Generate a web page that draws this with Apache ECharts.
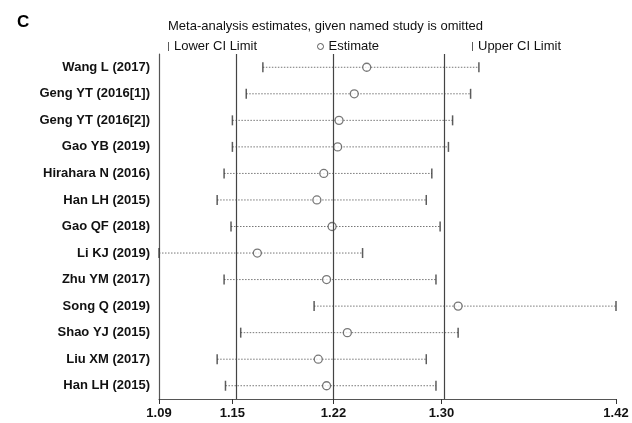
<!DOCTYPE html>
<html>
<head>
<meta charset="utf-8">
<script src="https://cdn.jsdelivr.net/npm/echarts@6/dist/echarts.min.js"></script>
<style>
html,body{margin:0;padding:0;background:#fff;}
#chart{width:632px;height:423px;}
</style>
</head>
<body>
<div id="chart"></div>
<script>
const studies = ['Wang L (2017)', 'Geng YT (2016[1])', 'Geng YT (2016[2])', 'Gao YB (2019)', 'Hirahara N (2016)', 'Han LH (2015)', 'Gao QF (2018)', 'Li KJ (2019)', 'Zhu YM (2017)', 'Song Q (2019)', 'Shao YJ (2015)', 'Liu XM (2017)', 'Han LH (2015)'];
const lowerCI = [1.169, 1.157, 1.147, 1.147, 1.141, 1.136, 1.146, 1.094, 1.141, 1.206, 1.153, 1.136, 1.142];
const estimate = [1.244, 1.235, 1.224, 1.223, 1.213, 1.208, 1.219, 1.165, 1.215, 1.310, 1.230, 1.209, 1.215];
const upperCI = [1.325, 1.319, 1.306, 1.303, 1.291, 1.287, 1.297, 1.241, 1.294, 1.424, 1.310, 1.287, 1.294];
const overallLines = [1.147, 1.220, 1.298];
const xTicks = [1.094, 1.147, 1.220, 1.298, 1.424];
const xMin = 1.094, xMax = 1.424;

const FONT = '"Liberation Sans", Arial, sans-serif';
const chart = echarts.init(document.getElementById('chart'));

const idx = studies.map((s, i) => i);

const option = {
  animation: false,
  backgroundColor: '#fff',
  title: [
    { text: 'C', left: 12, top: 9, textStyle: { fontFamily: FONT, fontSize: 17, fontWeight: 'bold', color: '#000' } },
    { text: 'Meta-analysis estimates, given named study is omitted', left: 163, top: 15, textStyle: { fontFamily: FONT, fontSize: 13, fontWeight: 'normal', color: '#111' } }
  ],
  legend: [
    { data: [{ name: 'Lower CI Limit', icon: 'rect' }], left: 163, top: 35, itemWidth: 1, itemHeight: 9, textStyle: { fontFamily: FONT, fontSize: 13, color: '#111' }, selectedMode: false },
    { data: [{ name: 'Estimate', icon: 'circle' }], left: 312, top: 35, itemWidth: 6, itemHeight: 6, textStyle: { fontFamily: FONT, fontSize: 13, color: '#111' }, selectedMode: false, itemStyle: { borderWidth: 1, borderColor: '#333', color: '#fff' } },
    { data: [{ name: 'Upper CI Limit', icon: 'rect' }], left: 467, top: 35, itemWidth: 1, itemHeight: 9, textStyle: { fontFamily: FONT, fontSize: 13, color: '#111' }, selectedMode: false }
  ],
  grid: { left: 159, right: 16, top: 54, bottom: 24, containLabel: false },
  xAxis: {
    type: 'value', min: xMin, max: xMax,
    splitLine: { show: false },
    axisLine: { show: true, lineStyle: { color: '#555', width: 1.2 } },
    axisTick: { show: true, customValues: xTicks, length: 5, lineStyle: { color: '#333' } },
    axisLabel: { customValues: xTicks, formatter: v => v.toFixed(2), fontFamily: FONT, fontSize: 13, fontWeight: 'bold', color: '#111', margin: 8 }
  },
  yAxis: {
    type: 'category', data: studies, inverse: true,
    axisLine: { show: true, lineStyle: { color: '#555', width: 1.2 } },
    axisTick: { show: false },
    splitLine: { show: false },
    axisLabel: { fontFamily: FONT, fontSize: 13, fontWeight: 'bold', color: '#111', margin: 9 }
  },
  series: [
    {
      type: 'custom', name: 'ciRange', silent: true,
      data: idx.map(i => [lowerCI[i], i, upperCI[i]]),
      encode: { x: [0, 2], y: 1 },
      renderItem: function (params, api) {
        const p1 = api.coord([api.value(0), api.value(1)]);
        const p2 = api.coord([api.value(2), api.value(1)]);
        return { type: 'line', shape: { x1: p1[0], y1: p1[1], x2: p2[0], y2: p2[1] },
          style: { stroke: '#777', lineWidth: 1, lineDash: [1.5, 1.5] } };
      },
      markLine: {
        silent: true, symbol: 'none', label: { show: false },
        lineStyle: { type: 'solid', color: '#444', width: 1.2 },
        data: overallLines.map(v => ({ xAxis: v }))
      },
      z: 1
    },
    {
      type: 'scatter', name: 'Lower CI Limit', symbol: 'rect', symbolSize: [1.5, 10],
      itemStyle: { color: '#333' },
      data: idx.map(i => [lowerCI[i], i]), z: 3
    },
    {
      type: 'scatter', name: 'Estimate', symbol: 'circle', symbolSize: 8,
      itemStyle: { color: '#fff', borderColor: '#555', borderWidth: 1.3 },
      data: idx.map(i => [estimate[i], i]), z: 4
    },
    {
      type: 'scatter', name: 'Upper CI Limit', symbol: 'rect', symbolSize: [1.5, 10],
      itemStyle: { color: '#333' },
      data: idx.map(i => [upperCI[i], i]), z: 3
    }
  ]
};
chart.setOption(option);
</script>
</body>
</html>
